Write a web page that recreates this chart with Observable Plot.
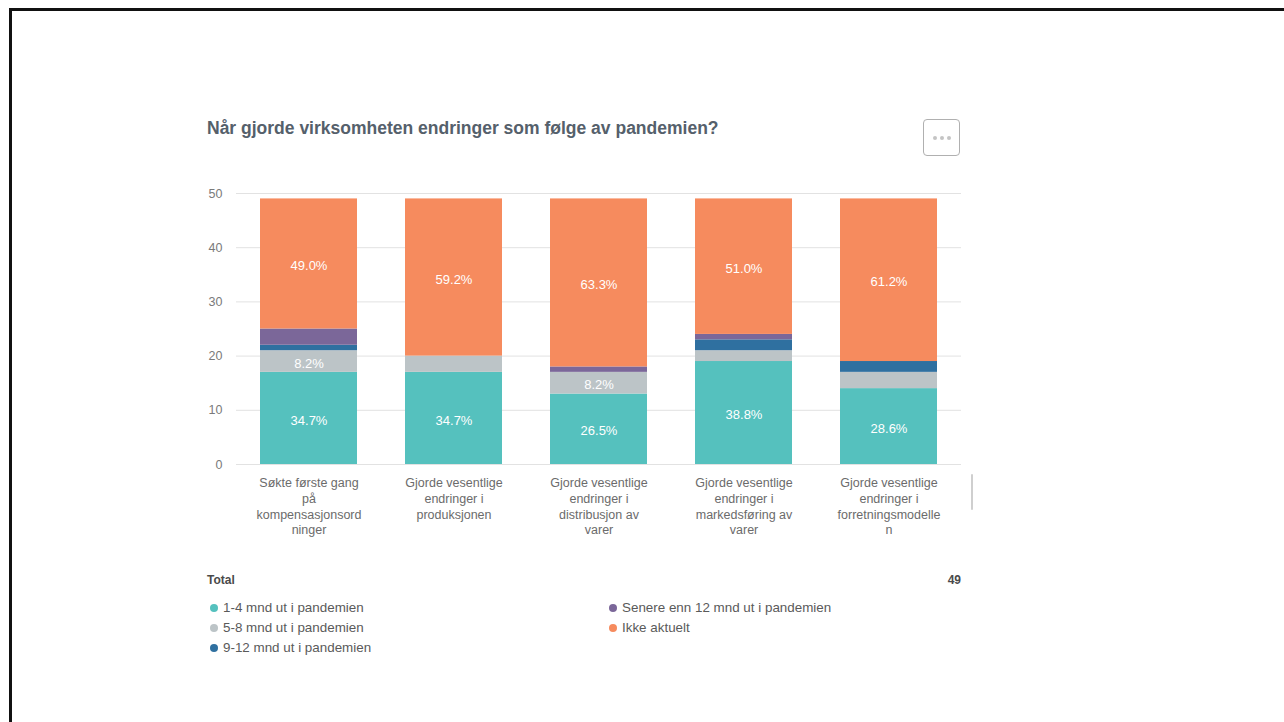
<!DOCTYPE html>
<html>
<head>
<meta charset="utf-8">
<script src="https://cdn.jsdelivr.net/npm/d3@7"></script>
<script src="https://cdn.jsdelivr.net/npm/@observablehq/plot@0.6"></script>
<style>
  html, body { margin: 0; padding: 0; background: #fff; width: 1284px; height: 722px; overflow: hidden; }
  body { position: relative; font-family: "Liberation Sans", Arial, sans-serif; }
  .frame-top { position: absolute; left: 9px; top: 8px; width: 1275px; height: 3px; background: #111; }
  .frame-left { position: absolute; left: 9px; top: 8px; width: 3px; height: 714px; background: #111; }
  #title { position: absolute; left: 207px; top: 118px; font-size: 17.5px; font-weight: bold; color: #55606b; }
  #menu { position: absolute; left: 923px; top: 119px; width: 35px; height: 35px; border: 1.5px solid #b0b0b0; border-radius: 4px; box-sizing: content-box; display: flex; align-items: center; justify-content: center; gap: 3px; }
  #menu span { width: 4px; height: 4px; border-radius: 50%; background: #c4c4c4; display: block; }
  #chart { position: absolute; left: 180px; top: 170px; }
  #scroll { position: absolute; left: 971px; top: 474px; width: 2px; height: 36px; background: #cfcfcf; border-radius: 1px; }
  #total { position: absolute; left: 207px; top: 573px; font-size: 12px; font-weight: bold; color: #4a4a4a; }
  #count { position: absolute; left: 900px; width: 61px; text-align: right; top: 573px; font-size: 12px; font-weight: bold; color: #4a4a4a; }
  .leg { position: absolute; font-size: 13.4px; color: #5a5a5a; white-space: nowrap; line-height: 14px; }
  .leg i { position: absolute; left: -13px; top: 3px; width: 8px; height: 8px; border-radius: 50%; display: block; }
</style>
</head>
<body>
<div class="frame-top"></div>
<div class="frame-left"></div>
<div id="title"></div>
<div id="menu"><span></span><span></span><span></span></div>
<div id="chart"></div>
<div id="scroll"></div>
<div id="total"></div>
<div id="count"></div>
<div id="legend"></div>
<script>
const titleText = "Når gjorde virksomheten endringer som følge av pandemien?";
const categories = [
  "Søkte første gang\npå\nkompensasjonsord\nninger",
  "Gjorde vesentlige\nendringer i\nproduksjonen",
  "Gjorde vesentlige\nendringer i\ndistribusjon av\nvarer",
  "Gjorde vesentlige\nendringer i\nmarkedsføring av\nvarer",
  "Gjorde vesentlige\nendringer i\nforretningsmodelle\nn"
];
const series = [
  "1-4 mnd ut i pandemien",
  "5-8 mnd ut i pandemien",
  "9-12 mnd ut i pandemien",
  "Senere enn 12 mnd ut i pandemien",
  "Ikke aktuelt"
];
const colors = ["#55c1be", "#bcc4c7", "#2f70a0", "#7b6799", "#f68b5e"];
const v1to4   = [17, 17, 13, 19, 14];
const v5to8   = [4, 3, 4, 2, 3];
const v9to12  = [1, 0, 0, 2, 2];
const vLater  = [3, 0, 1, 1, 0];
const vIkke   = [24, 29, 31, 25, 30];
const yTicks = [0, 10, 20, 30, 40, 50];
const totalN = 49;

const seriesValues = [v1to4, v5to8, v9to12, vLater, vIkke];
const data = [];
categories.forEach((c, i) => {
  const tot = d3.sum(seriesValues, s => s[i]);
  series.forEach((s, j) => {
    data.push({cat: c, series: s, value: seriesValues[j][i], total: tot});
  });
});

document.getElementById("title").textContent = titleText;
document.getElementById("total").textContent = "Total";
document.getElementById("count").textContent = String(totalN);

const chart = Plot.plot({
  width: 801,
  height: 369,
  marginLeft: 56,
  marginRight: 20,
  marginTop: 23,
  marginBottom: 75,
  style: {fontFamily: "'Liberation Sans', Arial, sans-serif", fontSize: "12px", color: "#6b6b6b", background: "transparent"},
  x: {domain: categories, paddingInner: 0.331, paddingOuter: 0.165, label: null},
  y: {domain: [0, 50], label: null},
  color: {domain: series, range: colors},
  marks: [
    Plot.ruleY(yTicks, {stroke: "#e2e2e2", strokeWidth: 1}),
    Plot.barY(data, Plot.stackY({x: "cat", y: "value", fill: "series", order: series})),
    Plot.text(data, Plot.stackY({
      x: "cat", y: "value", z: "series", order: series,
      text: d => d.value / d.total >= 0.08 ? (d.value / d.total * 100).toFixed(1) + "%" : "",
      fill: "white", fontSize: 13, fontWeight: 500, dy: 2
    })),
    Plot.axisY({ticks: yTicks, tickSize: 0, tickPadding: 14, fontSize: 12.5, fill: "#7a7a7a", label: null}),
    Plot.axisX({tickSize: 0, tickPadding: 11, fontSize: 12.5, fill: "#6b6b6b", lineHeight: 1.27, label: null, textOverflow: null})
  ]
});
document.getElementById("chart").appendChild(chart);

// legend
const legendPos = [
  {x: 223, y: 600}, {x: 223, y: 620}, {x: 223, y: 640},
  {x: 622, y: 600}, {x: 622, y: 620}
];
const leg = document.getElementById("legend");
series.forEach((s, i) => {
  const el = document.createElement("div");
  el.className = "leg";
  el.style.left = legendPos[i].x + "px";
  el.style.top = (legendPos[i].y + 1) + "px";
  const dot = document.createElement("i");
  dot.style.background = colors[i];
  el.appendChild(dot);
  el.appendChild(document.createTextNode(s));
  leg.appendChild(el);
});
</script>
</body>
</html>
